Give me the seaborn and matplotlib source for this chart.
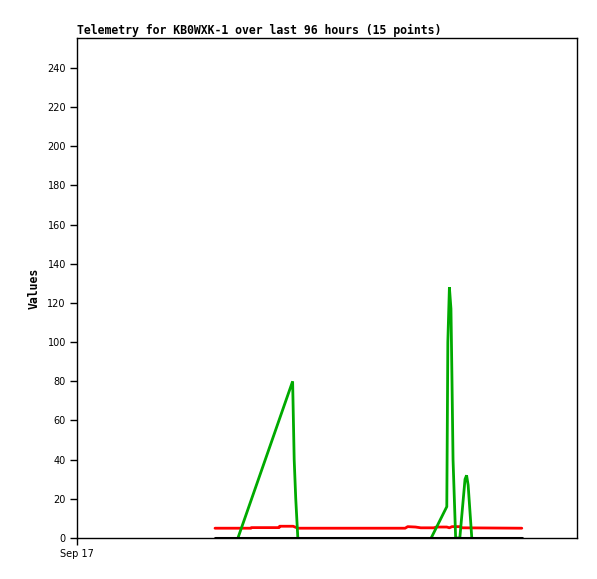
import numpy as np
import pandas as pd
import seaborn as sns
import matplotlib
matplotlib.use("Agg")
import matplotlib.pyplot as plt

# hours since the start of the 96 hour window (left edge = Sep 17)
red_hours = [26.5, 33.4, 33.5, 38.8, 38.9, 41.5, 42.4, 63.0, 63.5, 65.0, 66.0,
             68.5, 69.0, 71.0, 71.5, 72.0, 73.5, 74.0, 85.4]
red_values = [5, 5, 5.3, 5.3, 6, 6, 5, 5, 5.8, 5.6, 5.2,
              5.2, 5.6, 5.6, 5.2, 5.8, 5.8, 5.2, 5]

# green comes in two pieces (it sits on zero between them)
green_hours = [30.9, 41.4, 41.7, 42.0, 42.4,
               68.0, 71.0, 71.2, 71.5, 71.8, 72.0, 72.2, 72.7, 73.5, 74.5, 74.8, 75.1, 75.8]
green_values = [0, 80, 40, 20, 0,
                0, 16, 100, 128, 117, 80, 40, 0, 0, 30, 32, 27, 0]
green_piece = [1, 1, 1, 1, 1,
               2, 2, 2, 2, 2, 2, 2, 2, 2, 2, 2, 2, 2]

black_hours = [26.5, 85.4]
black_values = [0, 0]

y_ticks = list(range(0, 241, 20))
x_tick_labels = ["Sep 17"]
title = "Telemetry for KB0WXK-1 over last 96 hours (15 points)"

sns.set_style("white")
plt.rcParams["font.family"] = ["DejaVu Sans"]
plt.rcParams["text.color"] = "black"
plt.rcParams["axes.labelcolor"] = "black"
plt.rcParams["xtick.color"] = "black"
plt.rcParams["ytick.color"] = "black"

fig = plt.figure(figsize=(5.97, 5.79), dpi=100)
ax = fig.add_axes([77 / 597, 41 / 579, 500 / 597, 500 / 579])

red_df = pd.DataFrame({"hours": red_hours, "value": red_values})
green_df = pd.DataFrame({"hours": green_hours, "value": green_values, "piece": green_piece})
black_df = pd.DataFrame({"hours": black_hours, "value": black_values})

sns.lineplot(data=red_df, x="hours", y="value", color="#ff0000", lw=2, ax=ax,
             estimator=None, sort=False)
sns.lineplot(data=green_df, x="hours", y="value", units="piece", color="#00aa00",
             lw=2, ax=ax, estimator=None, sort=False, solid_joinstyle="miter")
sns.lineplot(data=black_df, x="hours", y="value", color="black", lw=2.2, ax=ax,
             estimator=None, sort=False)

ax.set_xlim(0, 96)
ax.set_ylim(0, 255.3)
ax.set_yticks(y_ticks)
ax.set_yticklabels([str(t) for t in y_ticks], fontsize=7)
ax.set_xticks([0])
ax.set_xticklabels(x_tick_labels, fontsize=7)
ax.tick_params(axis="both", direction="out", length=5, width=1, color="black",
               labelcolor="black", left=True, bottom=True, pad=3)
for s in ax.spines.values():
    s.set_color("black")
    s.set_linewidth(1)

ax.set_xlabel("")
ax.set_ylabel("Values", fontsize=8.3, fontweight="bold", family="DejaVu Sans Mono",
              labelpad=5)
ax.set_title(title, loc="left", fontsize=8.3, fontweight="bold",
             family="DejaVu Sans Mono", pad=3)

fig.savefig("out.png", dpi=100)
